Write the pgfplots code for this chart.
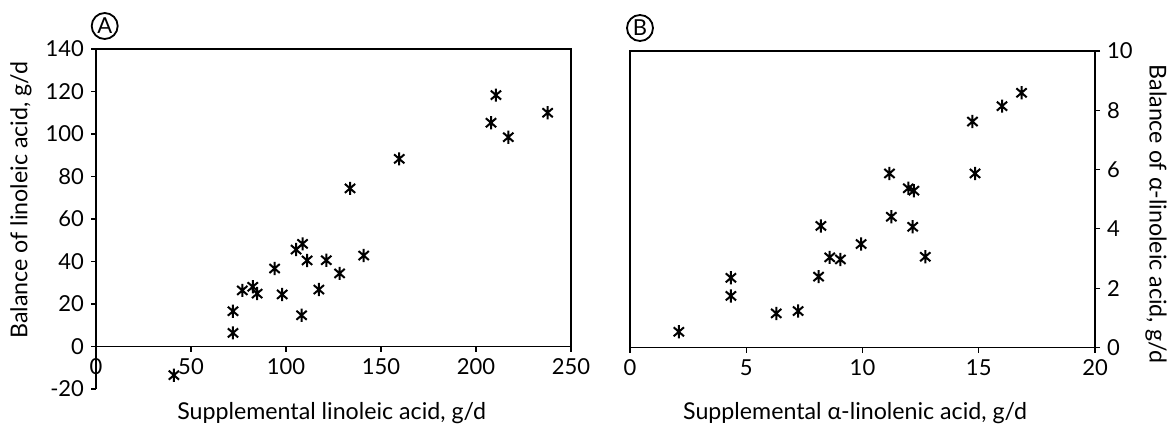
\documentclass[border=0pt]{standalone}
\usepackage{fontspec}
\setmainfont{Lato}
\usepackage{pgfplots}
\pgfplotsset{compat=1.18}
\newcommand\fs{\fontsize{11bp}{13bp}\selectfont}
\newcommand\fl{\fontsize{11.6bp}{13bp}\selectfont}
\pgfdeclareplotmark{star3}{%
  \pgfpathmoveto{\pgfqpoint{0pt}{\pgfplotmarksize}}%
  \pgfpathlineto{\pgfqpoint{0pt}{-\pgfplotmarksize}}%
  \pgfpathmoveto{\pgfqpoint{.78\pgfplotmarksize}{.68\pgfplotmarksize}}%
  \pgfpathlineto{\pgfqpoint{-.78\pgfplotmarksize}{-.68\pgfplotmarksize}}%
  \pgfpathmoveto{\pgfqpoint{-.78\pgfplotmarksize}{.68\pgfplotmarksize}}%
  \pgfpathlineto{\pgfqpoint{.78\pgfplotmarksize}{-.68\pgfplotmarksize}}%
  \pgfusepathqstroke}
\begin{document}
\begin{tikzpicture}
\useasboundingbox (0,0) rectangle (586bp,214.5bp);
\pgfplotsset{
  every axis/.append style={
    /pgf/number format/assume math mode=true,
    tick label style={font=\fs},
    label style={font=\fl},
    axis line style={line width=0.6bp},
    tick style={line width=0.6bp,black},
    major tick length=2.5bp,
    tick align=outside,
    clip=false,
    scale only axis,
  },
}
% Panel A
\begin{axis}[
  at={(48bp,41.25bp)}, anchor=origin,
  x=0.95bp, y=1.0625bp,
  xmin=0, xmax=250, ymin=-20, ymax=140,
  axis x line*=middle, axis y line*=left,
  hide obscured x ticks=false, hide obscured y ticks=false,
  xtick={0,50,100,150,200,250},
  ytick={-20,0,20,40,60,80,100,120,140},
  xlabel={Supplemental linoleic acid, g/d},
  ylabel={Balance of linoleic acid, g/d},
  xlabel style={at={(axis description cs:0.496,-0.071)},anchor=center},
  ylabel style={at={(axis description cs:-0.158,0.555)},anchor=center,rotate=0},
]
\draw[line width=0.6bp] (axis cs:0,140) -- (axis cs:250,140) -- (axis cs:250,0);
\addplot[only marks, mark=star3, mark size=3.3bp, line width=1bp, black] coordinates {
(41.0,-13.5) (72.1,6.4) (72.1,16.6) (77.0,26.4) (82.5,28.1) (84.8,24.9)
(94.0,36.7) (98.0,24.5) (105.3,45.6) (108.7,48.3) (108.2,14.7) (111.1,40.5)
(117.3,26.8) (121.2,40.6) (128.2,34.4) (140.9,42.8)
(133.7,74.4) (159.6,88.3) (207.9,105.3) (210.5,118.3) (217.0,98.5) (237.7,110.0)
};
\end{axis}
% Panel B
\begin{axis}[
  at={(315bp,40.75bp)}, anchor=origin,
  x=11.625bp, y=14.825bp,
  xmin=0, xmax=20, ymin=0, ymax=10,
  xtick={0,5,10,15,20}, ytick={0,2,4,6,8,10},
  xtick pos=bottom, ytick pos=right, yticklabel pos=right,
  xlabel={Supplemental α-linolenic acid, g/d},
  ylabel={Balance of α-linoleic acid, g/d},
  xlabel style={at={(axis description cs:0.484,-0.221)},anchor=center},
  ylabel style={at={(axis description cs:1.131,0.45)},anchor=center,rotate=180},
]
\addplot[only marks, mark=star3, mark size=3.3bp, line width=1bp, black] coordinates {
(2.10,0.53) (4.34,2.35) (4.34,1.74) (6.29,1.15) (7.23,1.23) (8.11,2.39)
(8.21,4.10) (8.59,3.04) (9.05,2.97) (9.94,3.49) (12.16,4.07) (12.70,3.06)
(11.24,4.41) (11.16,5.87) (14.84,5.87) (11.97,5.37) (12.21,5.29)
(14.73,7.62) (16.0,8.14) (16.84,8.59)
};
\end{axis}
\node[draw, circle, line width=0.9bp, minimum size=13bp, inner sep=0pt, font=\fontsize{11bp}{12bp}\selectfont] at (52.35bp,201.5bp) {A};
\node[draw, circle, line width=0.9bp, minimum size=13bp, inner sep=0pt, font=\fontsize{11bp}{12bp}\selectfont] at (320bp,200.5bp) {B};
\end{tikzpicture}
\end{document}
